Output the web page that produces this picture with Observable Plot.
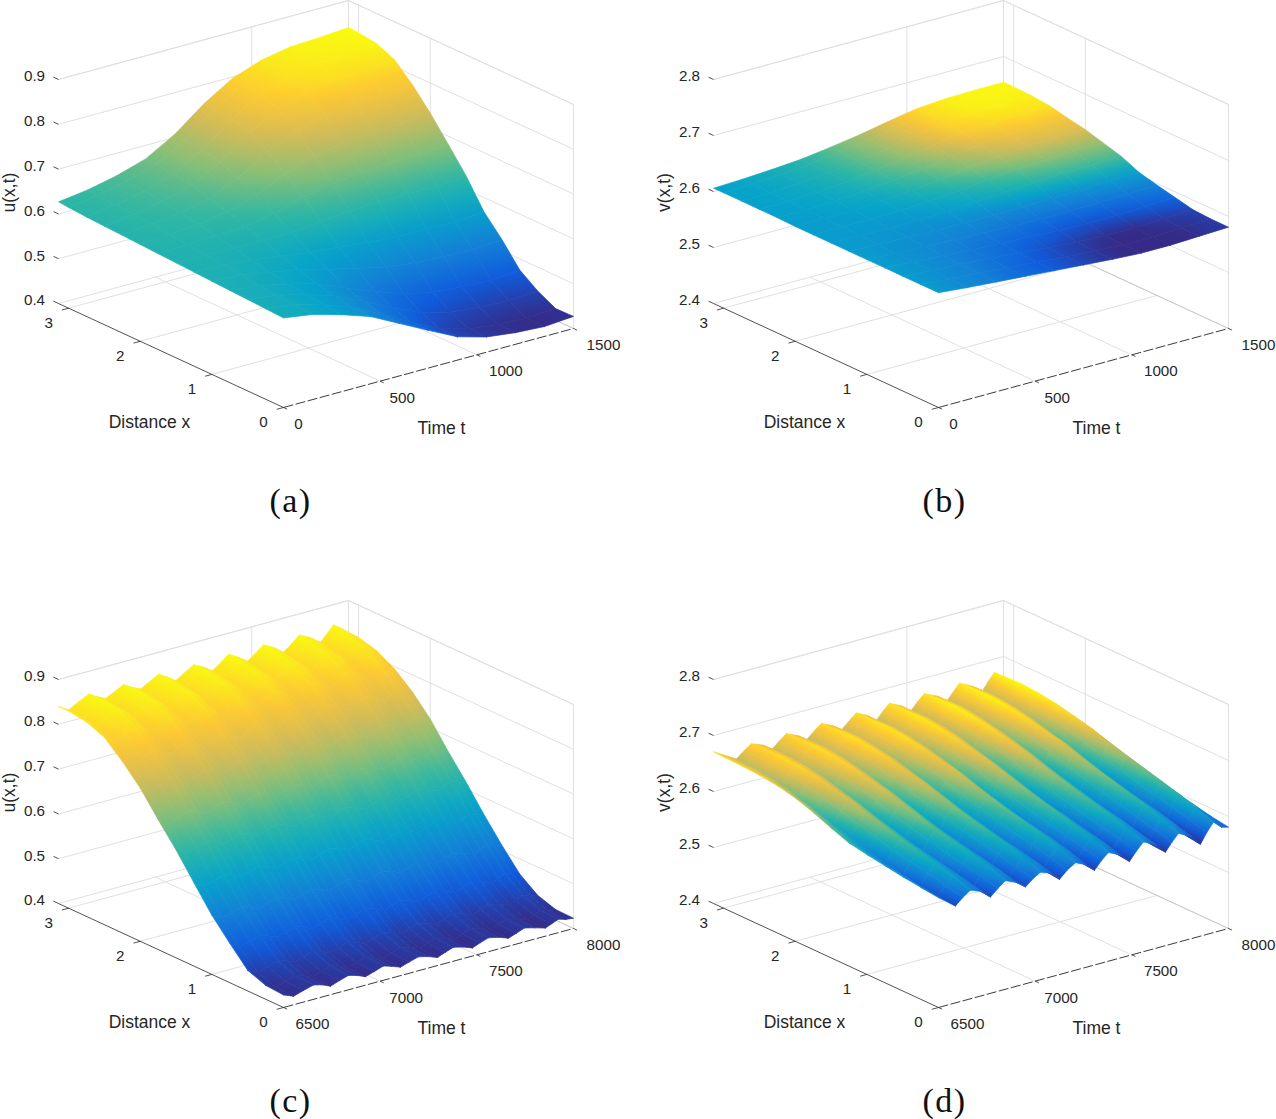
<!DOCTYPE html>
<html><head><meta charset="utf-8">
<style>html,body{margin:0;padding:0;background:#fff}svg{display:block}.cap text{letter-spacing:1.5px}</style>
<script src="https://cdn.jsdelivr.net/npm/d3@7"></script>
<script src="https://cdn.jsdelivr.net/npm/@observablehq/plot@0.6"></script>
</head><body><div id="chart"></div>
<script>
// Values.
const xGrid = [0,.25,.5,.75,1,1.25,1.5,1.75,2,2.25,2.5,2.75,3,3.14];
const xTicks = [0,1,2,3];
const uTicks = [.4,.5,.6,.7,.8,.9];
const vTicks = [2.4,2.5,2.6,2.7,2.8];
const tTicksEarly = [0,500,1000,1500];
const tTicksLate = [6500,7000,7500,8000];

// panels (a), (b): one row per time, one value per xGrid entry
const tEarly = [0,150,300,450,600,750,900,1050,1200,1350,1500];
const uA = [
[.600,.602,.604,.606,.608,.610,.612,.614,.616,.618,.620,.622,.625,.627],
[.590,.593,.596,.599,.604,.608,.612,.617,.621,.625,.629,.632,.634,.636],
[.572,.575,.580,.585,.593,.601,.610,.618,.626,.634,.640,.645,.648,.650],
[.550,.552,.559,.568,.581,.593,.609,.622,.636,.648,.659,.665,.668,.670],
[.517,.519,.529,.541,.564,.583,.610,.633,.656,.676,.693,.702,.705,.707],
[.484,.484,.498,.516,.549,.577,.618,.652,.686,.716,.741,.752,.755,.757],
[.452,.452,.469,.492,.534,.570,.622,.665,.707,.745,.776,.791,.795,.797],
[.434,.434,.453,.479,.525,.566,.624,.672,.720,.762,.797,.813,.818,.820],
[.426,.426,.446,.473,.522,.565,.626,.677,.726,.771,.808,.825,.830,.832],
[.422,.422,.443,.470,.520,.563,.625,.677,.728,.773,.810,.828,.833,.835],
[.427,.426,.447,.475,.525,.568,.630,.682,.733,.778,.815,.833,.838,.840]];
const vB = [
[2.605,2.605,2.605,2.605,2.605,2.605,2.605,2.605,2.605,2.606,2.606,2.606,2.606,2.606],
[2.600,2.600,2.601,2.602,2.602,2.603,2.604,2.605,2.605,2.606,2.607,2.607,2.608,2.608],
[2.596,2.597,2.598,2.599,2.600,2.602,2.603,2.605,2.606,2.608,2.609,2.610,2.611,2.611],
[2.592,2.592,2.594,2.595,2.598,2.600,2.603,2.606,2.608,2.611,2.613,2.614,2.615,2.615],
[2.588,2.588,2.590,2.592,2.596,2.600,2.605,2.609,2.613,2.617,2.620,2.621,2.622,2.622],
[2.584,2.584,2.585,2.590,2.594,2.599,2.608,2.613,2.619,2.623,2.627,2.629,2.630,2.630],
[2.580,2.580,2.582,2.587,2.593,2.600,2.611,2.618,2.626,2.631,2.636,2.639,2.640,2.640],
[2.577,2.577,2.579,2.586,2.593,2.601,2.614,2.623,2.632,2.638,2.645,2.648,2.649,2.649],
[2.577,2.577,2.579,2.586,2.594,2.602,2.617,2.626,2.636,2.642,2.648,2.652,2.653,2.653],
[2.579,2.579,2.581,2.588,2.595,2.604,2.618,2.627,2.637,2.643,2.650,2.653,2.654,2.654],
[2.581,2.581,2.583,2.590,2.597,2.605,2.619,2.628,2.637,2.643,2.650,2.653,2.654,2.654]];

// panel (c): one row per xGrid entry, one value per tC entry
const tC = [6500,6552,6604,6655,6700,6743,6790,6836,6880,6924,6970,7017,7060,7105,7150,7198,7247,7296,7338,7379,7428,7477,7518,7560,7612,7663,7705,7746,7800,7855,7888,7922,7960,8000];
const uC = [
[.428,.419,.426,.432,.427,.419,.426,.432,.427,.419,.425,.432,.426,.419,.425,.431,.426,.418,.425,.431,.426,.418,.425,.431,.426,.418,.424,.431,.425,.418,.424,.430,.425,.423],
[.431,.421,.428,.435,.429,.421,.428,.435,.429,.421,.427,.434,.428,.420,.427,.434,.428,.420,.427,.433,.428,.419,.426,.433,.427,.419,.426,.432,.427,.418,.425,.432,.426,.424],
[.446,.436,.443,.450,.444,.436,.443,.450,.444,.435,.442,.449,.443,.435,.442,.449,.443,.434,.441,.448,.442,.434,.441,.448,.442,.433,.440,.447,.441,.433,.440,.447,.441,.437],
[.488,.473,.480,.487,.481,.472,.479,.486,.480,.470,.477,.484,.478,.469,.476,.483,.477,.467,.474,.481,.475,.466,.473,.480,.474,.464,.471,.478,.472,.463,.470,.477,.471,.466],
[.532,.519,.526,.533,.527,.518,.525,.532,.526,.516,.523,.530,.524,.515,.522,.529,.523,.513,.520,.527,.521,.512,.519,.526,.520,.510,.517,.524,.518,.509,.516,.523,.517,.512],
[.586,.572,.579,.586,.580,.570,.577,.584,.578,.568,.575,.582,.576,.566,.573,.580,.574,.565,.572,.579,.573,.563,.570,.577,.571,.561,.568,.575,.569,.559,.566,.573,.567,.562],
[.641,.627,.634,.641,.635,.625,.632,.639,.633,.623,.630,.637,.631,.621,.628,.635,.629,.619,.626,.633,.627,.617,.624,.631,.625,.615,.622,.629,.623,.613,.620,.627,.621,.616],
[.690,.676,.684,.692,.686,.674,.682,.690,.684,.672,.680,.688,.682,.670,.678,.686,.680,.669,.677,.685,.679,.667,.675,.683,.677,.665,.673,.681,.675,.663,.671,.679,.673,.666],
[.742,.727,.736,.745,.738,.725,.734,.743,.736,.724,.733,.742,.735,.722,.731,.740,.733,.721,.730,.739,.732,.719,.728,.737,.730,.717,.726,.735,.728,.716,.725,.734,.727,.720],
[.783,.768,.778,.788,.780,.767,.777,.787,.779,.765,.775,.785,.777,.764,.774,.784,.776,.762,.772,.782,.774,.761,.771,.781,.773,.759,.769,.779,.771,.758,.768,.778,.770,.762],
[.818,.802,.813,.824,.815,.800,.811,.822,.813,.799,.810,.821,.812,.797,.808,.819,.810,.795,.806,.817,.808,.793,.804,.815,.806,.792,.803,.814,.805,.790,.801,.812,.803,.795],
[.834,.820,.832,.844,.834,.819,.831,.843,.833,.818,.830,.842,.832,.817,.829,.841,.831,.816,.828,.840,.830,.815,.827,.839,.829,.814,.826,.838,.828,.812,.824,.836,.826,.817],
[.840,.825,.838,.851,.840,.825,.838,.851,.840,.824,.837,.850,.839,.824,.837,.850,.839,.823,.836,.849,.838,.823,.836,.849,.838,.822,.835,.848,.837,.822,.835,.848,.837,.828],
[.840,.826,.838,.849,.838,.829,.839,.849,.838,.829,.840,.851,.840,.826,.838,.851,.840,.826,.839,.853,.841,.826,.839,.853,.841,.824,.838,.853,.841,.824,.839,.855,.843,.829]];

// panel (d): one row per xGrid entry, one value per tD entry.
// Crests and troughs arrive later at larger x: dLag is that delay for each xGrid entry.
const tD = [6500,6588,6627,6665,6725,6769,6808,6846,6905,6950,6989,7027,7085,7126,7167,7208,7265,7307,7343,7379,7440,7488,7524,7560,7625,7674,7708,7741,7805,7855,7888,7922,7965,8000];
const dLag = [0,2,5,7,10,12,14,17,19,22,24,26,29,30];
const vD = [
[2.596,2.573,2.585,2.594,2.586,2.572,2.584,2.594,2.585,2.573,2.584,2.592,2.585,2.570,2.583,2.592,2.583,2.569,2.583,2.594,2.584,2.568,2.583,2.596,2.585,2.567,2.582,2.594,2.583,2.564,2.582,2.597,2.584,2.581],
[2.600,2.576,2.591,2.604,2.593,2.575,2.591,2.605,2.593,2.574,2.590,2.605,2.593,2.573,2.590,2.606,2.593,2.572,2.590,2.607,2.593,2.571,2.590,2.607,2.592,2.569,2.589,2.608,2.592,2.568,2.590,2.609,2.593,2.586],
[2.604,2.580,2.598,2.612,2.599,2.579,2.597,2.613,2.599,2.578,2.597,2.614,2.599,2.577,2.597,2.615,2.600,2.576,2.597,2.615,2.599,2.575,2.596,2.616,2.600,2.574,2.596,2.617,2.600,2.573,2.598,2.618,2.600,2.593],
[2.609,2.584,2.603,2.619,2.605,2.583,2.603,2.620,2.605,2.582,2.603,2.621,2.605,2.581,2.603,2.622,2.606,2.581,2.604,2.623,2.606,2.580,2.604,2.624,2.606,2.579,2.604,2.625,2.606,2.578,2.604,2.626,2.607,2.600],
[2.614,2.589,2.609,2.626,2.611,2.588,2.609,2.627,2.611,2.587,2.609,2.628,2.612,2.587,2.610,2.629,2.612,2.586,2.610,2.630,2.612,2.586,2.611,2.631,2.613,2.585,2.611,2.633,2.613,2.584,2.612,2.634,2.614,2.607],
[2.620,2.596,2.617,2.634,2.619,2.595,2.617,2.635,2.619,2.594,2.617,2.636,2.619,2.594,2.618,2.637,2.620,2.593,2.618,2.638,2.620,2.593,2.619,2.639,2.621,2.592,2.619,2.641,2.621,2.591,2.619,2.642,2.622,2.614],
[2.632,2.604,2.625,2.643,2.627,2.603,2.625,2.644,2.628,2.603,2.626,2.645,2.628,2.602,2.626,2.646,2.628,2.602,2.627,2.647,2.629,2.601,2.627,2.648,2.629,2.601,2.628,2.650,2.630,2.600,2.628,2.651,2.631,2.623],
[2.645,2.613,2.634,2.652,2.636,2.613,2.635,2.653,2.637,2.612,2.635,2.654,2.637,2.612,2.636,2.655,2.638,2.612,2.636,2.656,2.638,2.611,2.637,2.657,2.639,2.611,2.637,2.659,2.640,2.610,2.638,2.660,2.640,2.633],
[2.656,2.623,2.642,2.658,2.644,2.623,2.643,2.659,2.645,2.623,2.643,2.660,2.645,2.622,2.644,2.661,2.646,2.622,2.644,2.662,2.646,2.622,2.645,2.664,2.647,2.621,2.645,2.665,2.647,2.621,2.646,2.667,2.648,2.642],
[2.663,2.633,2.650,2.664,2.652,2.633,2.651,2.665,2.652,2.633,2.651,2.666,2.653,2.633,2.652,2.667,2.653,2.633,2.652,2.668,2.654,2.632,2.653,2.670,2.654,2.632,2.653,2.671,2.655,2.632,2.654,2.673,2.656,2.650],
[2.667,2.641,2.656,2.668,2.657,2.641,2.656,2.669,2.658,2.641,2.657,2.670,2.658,2.641,2.658,2.671,2.659,2.641,2.658,2.672,2.660,2.640,2.659,2.674,2.660,2.640,2.659,2.675,2.661,2.640,2.660,2.677,2.662,2.656],
[2.669,2.646,2.659,2.670,2.660,2.646,2.660,2.671,2.661,2.646,2.660,2.672,2.662,2.646,2.661,2.673,2.662,2.646,2.661,2.674,2.663,2.645,2.662,2.676,2.664,2.645,2.662,2.677,2.664,2.645,2.663,2.679,2.665,2.660],
[2.670,2.647,2.659,2.668,2.660,2.647,2.659,2.669,2.660,2.647,2.660,2.670,2.661,2.647,2.660,2.671,2.661,2.647,2.661,2.672,2.662,2.647,2.661,2.674,2.663,2.647,2.662,2.675,2.664,2.647,2.662,2.677,2.665,2.660],
[2.671,2.647,2.658,2.667,2.659,2.646,2.658,2.668,2.659,2.647,2.659,2.669,2.660,2.646,2.659,2.671,2.661,2.646,2.660,2.672,2.662,2.647,2.661,2.672,2.662,2.647,2.661,2.674,2.663,2.646,2.662,2.676,2.664,2.660]];

const parula = ["#352a87","#0f5cdd","#1481d6","#06a4ca","#2eb7a4","#87bf77","#d1bb59","#fec832","#f9fb0e"];

// view of the box: screen displacement of each whole axis
const VIEW = {tRun:[290,-79], xRun:[-225,-104], zRise:-224, origin:[283,407], xMax:Math.PI};

const panels = [
 {key:"a",off:[0,0],ts:tEarly,tRange:[0,1500],tTicks:tTicksEarly,tOffs:[15,22,29,30],zRange:[.4,.9],zTicks:uTicks,fmt:d3.format(".1f"),
  rows:d3.transpose(uA),col:[.42,.84],zLabel:"u(x,t)",zLabelX:9,caption:"(a)"},
 {key:"b",off:[655,0],ts:tEarly,tRange:[0,1500],tTicks:tTicksEarly,tOffs:[15,22,29,30],zRange:[2.4,2.8],zTicks:vTicks,fmt:d3.format(".1f"),
  rows:d3.transpose(vB),col:[2.578,2.655],zLabel:"v(x,t)",zLabelX:9,caption:"(b)"},
 {key:"c",off:[0,600],ts:tC,tRange:[6500,8000],tTicks:tTicksLate,tOffs:[29,26,29,30],zRange:[.4,.9],zTicks:uTicks,fmt:d3.format(".1f"),
  rows:uC,col:[.416,.855],zLabel:"u(x,t)",zLabelX:9,caption:"(c)"},
 {key:"d",off:[655,600],ts:tD,lag:dLag,tRange:[6500,8000],tTicks:tTicksLate,tOffs:[29,26,29,30],zRange:[2.4,2.8],zTicks:vTicks,fmt:d3.format(".1f"),
  rows:vD,col:[2.564,2.679],zLabel:"v(x,t)",zLabelX:9,caption:"(d)"}
];

function projector(p){
  const [t0,t1]=p.tRange,[z0,z1]=p.zRange;
  return (t,x,z)=>{
    const a=(t-t0)/(t1-t0),b=x/VIEW.xMax,c=(z-z0)/(z1-z0);
    return [VIEW.origin[0]+p.off[0]+a*VIEW.tRun[0]+b*VIEW.xRun[0],
            VIEW.origin[1]+p.off[1]+a*VIEW.tRun[1]+b*VIEW.xRun[1]+c*VIEW.zRise];
  };
}

const quadPts=[], grads=[], gridSegs=[], axisSegs=[], dashSegs=[], edgeSegs=[], labels=[], titles=[];
const seg=(list,P,a,b)=>{const A=P(...a),B=P(...b);list.push({x1:A[0],y1:A[1],x2:B[0],y2:B[1]});};

for(const p of panels){
  const P=projector(p),[t0,t1]=p.tRange,[z0,z1]=p.zRange,xm=VIEW.xMax;
  const colour=Plot.scale({color:{type:"linear",domain:p.col,interpolate:d3.piecewise(d3.interpolateRgb,parula),clamp:true}});
  // walls and floor
  const tStep=(t1-t0)/3;
  for(const z of p.zTicks.concat(z1)){ seg(gridSegs,P,[t0,xm,z],[t1,xm,z]); seg(gridSegs,P,[t1,xm,z],[t1,0,z]); }
  seg(gridSegs,P,[p.tTicks[2],xm,z0],[p.tTicks[2],xm,z1]);
  seg(gridSegs,P,[t1,xm,z0],[t1,xm,z1]);
  seg(gridSegs,P,[t1,3,z0],[t1,3,z1]);
  seg(gridSegs,P,[t1,2,z0],[t1,2,z1]);
  seg(gridSegs,P,[t1,0,z0],[t1,0,z1]);
  for(const x of xTicks.slice(1)) seg(gridSegs,P,[t0,x,z0],[t1,x,z0]);
  for(const t of p.tTicks.slice(1,3)) seg(gridSegs,P,[t,0,z0],[t,xm,z0]);
  seg(edgeSegs,P,[t1,0,z0],[t1,xm,z0]);
  // axes and ticks
  seg(axisSegs,P,[t0,0,z0],[t0,xm,z0]);
  seg(dashSegs,P,[t0,0,z0],[t1,0,z0]);
  for(const x of xTicks){ seg(axisSegs,P,[t0,x,z0],[t0-tStep*.07,x,z0]);
    const q=P(t0,x,z0); labels.push({x:q[0]-20,y:q[1]+15,text:String(x)}); }
  p.tTicks.forEach((t,i)=>{ seg(axisSegs,P,[t,0,z0],[t,-.05,z0]);
    const q=P(t,0,z0); labels.push({x:q[0]+p.tOffs[i],y:q[1]+16.5,text:String(t)}); });
  for(const z of p.zTicks){ seg(axisSegs,P,[t0,xm,z],[t0,xm+.07,z]);
    const q=P(t0,xm,z); labels.push({x:q[0]-24,y:q[1]-3,text:p.fmt(z)}); }
  titles.push({x:149+p.off[0],y:422+p.off[1],text:"Distance x"});
  titles.push({x:441+p.off[0],y:428+p.off[1],text:"Time t"});
  titles.push({x:p.zLabelX+p.off[0],y:192+p.off[1],text:p.zLabel,rot:true});
  titles.push({x:290+p.off[0]-(p.off[0]?1:0),y:501+p.off[1],text:p.caption,cap:true});
  // surface, painted from the far corner to the near one
  const tAt=(c,r)=>(p.lag&&c>0&&c<p.ts.length-1)?p.ts[c]+p.lag[r]:p.ts[c];
  for(let c=p.ts.length-2;c>=0;c--) for(let r=xGrid.length-2;r>=0;r--){
    const id=`${p.key}${c}_${r}`;
    const idx=[[c,r],[c+1,r],[c+1,r+1],[c,r+1]];
    const pts=idx.map(([i,j])=>P(tAt(i,j),xGrid[j],p.rows[j][i]));
    const vals=idx.map(([i,j])=>p.rows[j][i]);
    const e1=[(pts[1][0]+pts[2][0]-pts[0][0]-pts[3][0])/2,(pts[1][1]+pts[2][1]-pts[0][1]-pts[3][1])/2];
    const e2=[(pts[3][0]+pts[2][0]-pts[0][0]-pts[1][0])/2,(pts[3][1]+pts[2][1]-pts[0][1]-pts[1][1])/2];
    const a=(vals[1]+vals[2]-vals[0]-vals[3])/2,b=(vals[3]+vals[2]-vals[0]-vals[1])/2;
    const det=e1[0]*e2[1]-e1[1]*e2[0];
    const Vc=d3.mean(vals),C=[d3.mean(pts,d=>d[0]),d3.mean(pts,d=>d[1])];
    let paint=colour.apply(Vc);
    if(Math.abs(det)>6){
      const g=[(a*e2[1]-b*e1[1])/det,(-a*e2[0]+b*e1[0])/det],len2=g[0]*g[0]+g[1]*g[1];
      const dv=d3.max(vals,v=>Math.abs(v-Vc));
      if(len2>0&&dv>0){
        const o=[g[0]*dv/len2,g[1]*dv/len2];
        grads.push({id,A:[C[0]-o[0],C[1]-o[1]],B:[C[0]+o[0],C[1]+o[1]],
          stops:[colour.apply(Vc-dv),colour.apply(Vc),colour.apply(Vc+dv)]});
        paint=`url(#${id})`;
      }
    }
    for(const q of [...pts,pts[0]]) quadPts.push({q:id,X:q[0],Y:q[1],paint});
  }
}

const font="Liberation Sans, Arial, sans-serif";
const chart=Plot.plot({
  width:1276,height:1119,margin:0,
  x:{domain:[0,1276],range:[0,1276],axis:null},
  y:{domain:[0,1119],range:[0,1119],axis:null},
  style:{background:"#fff"},
  marks:[
    Plot.link(gridSegs,{x1:"x1",y1:"y1",x2:"x2",y2:"y2",stroke:"#e0e0e0",strokeWidth:1}),
    Plot.link(edgeSegs,{x1:"x1",y1:"y1",x2:"x2",y2:"y2",stroke:"#c8c8c8",strokeWidth:1}),
    Plot.link(axisSegs,{x1:"x1",y1:"y1",x2:"x2",y2:"y2",stroke:"#262626",strokeWidth:.8}),
    Plot.link(dashSegs,{x1:"x1",y1:"y1",x2:"x2",y2:"y2",stroke:"#262626",strokeWidth:.9,strokeDasharray:"10,2.5"}),
    Plot.line(quadPts,{x:"X",y:"Y",z:"q",fill:{value:"paint",scale:null},stroke:{value:"paint",scale:null},strokeWidth:.7,strokeLinejoin:"round"}),
    Plot.text(labels,{x:"x",y:"y",text:"text",fontSize:15.2,fontFamily:font,fill:"#262626",textAnchor:"middle"}),
    Plot.text(titles.filter(d=>!d.rot&&!d.cap),{x:"x",y:"y",text:"text",fontSize:17.5,fontFamily:font,fill:"#262626",textAnchor:"middle"}),
    Plot.text(titles.filter(d=>d.rot),{x:"x",y:"y",text:"text",fontSize:17.5,fontFamily:font,fill:"#262626",textAnchor:"middle",rotate:-90}),
    Plot.text(titles.filter(d=>d.cap),{x:"x",y:"y",text:"text",fontSize:34,fontFamily:"Liberation Serif, Times New Roman, serif",fill:"#111",textAnchor:"middle",className:"cap"})
  ]
});

// smooth shading of each facet between its own read corner values
const sx=chart.scale("x"),sy=chart.scale("y");
const defs=d3.select(chart).insert("defs",":first-child");
for(const g of grads){
  const lg=defs.append("linearGradient").attr("id",g.id).attr("gradientUnits","userSpaceOnUse")
    .attr("x1",sx.apply(g.A[0])).attr("y1",sy.apply(g.A[1])).attr("x2",sx.apply(g.B[0])).attr("y2",sy.apply(g.B[1]));
  g.stops.forEach((s,i)=>lg.append("stop").attr("offset",i/2).attr("stop-color",s));
}
document.getElementById("chart").appendChild(chart);
</script></body></html>
